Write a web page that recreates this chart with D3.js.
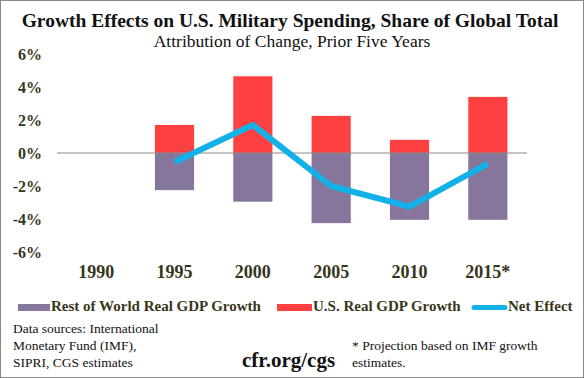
<!DOCTYPE html>
<html>
<head>
<meta charset="utf-8">
<script src="https://cdn.jsdelivr.net/npm/d3@7"></script>
<style>
  html, body { margin: 0; padding: 0; background: #fff; }
  svg { display: block; }
</style>
</head>
<body>
<svg id="chart" width="584" height="378"></svg>
<script>
const years = ["1990", "1995", "2000", "2005", "2010", "2015*"];
const usGrowth = [null, 1.7, 4.65, 2.25, 0.8, 3.4];
const rowGrowth = [null, -2.25, -2.95, -4.25, -4.05, -4.05];
const netEffect = [null, -0.55, 1.7, -2.0, -3.25, -0.65];
const yTicks = [-6, -4, -2, 0, 2, 4, 6];

const svg = d3.select("#chart");
const W = 584, H = 378;
const serif = "'Liberation Serif', 'DejaVu Serif', serif";
const textCol = "#36361c";
const purple = "#86769c", red = "#ff4040", blue = "#13b1e8";

svg.append("rect").attr("x", 0.5).attr("y", 0.5).attr("width", W - 1).attr("height", H - 1)
  .attr("fill", "#fff").attr("stroke", "#8a8a8a").attr("stroke-width", 1);

const x = d3.scaleBand().domain(years).range([57, 527]).paddingInner(0.5).paddingOuter(0.25);
const y = d3.scaleLinear().domain([-6, 6]).range([252, 54]);

// title
svg.append("text").attr("x", 290).attr("y", 27).attr("text-anchor", "middle")
  .attr("font-family", serif).attr("font-weight", "bold").attr("font-size", 19.5)
  .attr("fill", "#111").text("Growth Effects on U.S. Military Spending, Share of Global Total");
svg.append("text").attr("x", 292).attr("y", 47).attr("text-anchor", "middle")
  .attr("font-family", serif).attr("font-size", 17.5)
  .attr("fill", "#111").text("Attribution of Change, Prior Five Years");

// y axis
const yAxis = svg.append("g").attr("transform", "translate(42,0)")
  .call(d3.axisLeft(y).tickValues(yTicks).tickSize(0).tickPadding(0).tickFormat(d => d + "%"));
yAxis.select(".domain").remove();
yAxis.selectAll("text").attr("font-family", serif).attr("font-weight", "bold")
  .attr("font-size", 16).attr("fill", textCol);

// bars
const rows = years.map((yr, i) => ({ yr, us: usGrowth[i], row: rowGrowth[i], net: netEffect[i] }));
svg.append("g").selectAll("rect").data(rows.filter(d => d.row != null)).join("rect")
  .attr("x", d => x(d.yr)).attr("width", x.bandwidth())
  .attr("y", y(0)).attr("height", d => y(d.row) - y(0)).attr("fill", purple);
svg.append("g").selectAll("rect").data(rows.filter(d => d.us != null)).join("rect")
  .attr("x", d => x(d.yr)).attr("width", x.bandwidth())
  .attr("y", d => y(d.us)).attr("height", d => y(0) - y(d.us)).attr("fill", red);

// zero line
svg.append("line").attr("x1", 57).attr("x2", 527).attr("y1", y(0)).attr("y2", y(0))
  .attr("stroke", "#8a8a8a").attr("stroke-width", 1);

// net line
const line = d3.line().defined(d => d.net != null)
  .x(d => x(d.yr) + x.bandwidth() / 2).y(d => y(d.net));
svg.append("path").datum(rows).attr("d", line).attr("fill", "none")
  .attr("stroke", blue).attr("stroke-width", 6).attr("stroke-linejoin", "round");

// x axis
const xAxis = svg.append("g").attr("transform", "translate(0,265)")
  .call(d3.axisBottom(x).tickSize(0).tickPadding(0));
xAxis.select(".domain").remove();
xAxis.selectAll("text").attr("font-family", serif).attr("font-weight", "bold")
  .attr("font-size", 18).attr("fill", textCol);

// legend
const leg = svg.append("g").attr("font-family", serif).attr("font-weight", "bold")
  .attr("font-size", 15).attr("fill", textCol);
leg.append("rect").attr("x", 18).attr("y", 304).attr("width", 32).attr("height", 7).attr("fill", purple);
leg.append("text").attr("x", 51).attr("y", 311).text("Rest of World Real GDP Growth");
leg.append("rect").attr("x", 277).attr("y", 304).attr("width", 35).attr("height", 7).attr("fill", red);
leg.append("text").attr("x", 313).attr("y", 311).text("U.S. Real GDP Growth");
leg.append("line").attr("x1", 474).attr("x2", 505).attr("y1", 307.5).attr("y2", 307.5)
  .attr("stroke", blue).attr("stroke-width", 5).attr("stroke-linecap", "round");
leg.append("text").attr("x", 508).attr("y", 311).text("Net Effect");

// footnotes
const fn = svg.append("g").attr("font-family", serif).attr("font-size", 13.5).attr("fill", "#111");
["Data sources: International", "Monetary Fund (IMF),", "SIPRI, CGS estimates"].forEach((t, i) => {
  fn.append("text").attr("x", 13).attr("y", 333 + i * 17).text(t);
});
fn.append("text").attr("x", 352).attr("y", 350).text("* Projection  based on IMF growth");
fn.append("text").attr("x", 352).attr("y", 367).text("estimates.");
svg.append("text").attr("x", 242).attr("y", 367).attr("font-family", serif)
  .attr("font-weight", "bold").attr("font-size", 21).attr("fill", "#111").text("cfr.org/cgs");
</script>
</body>
</html>
